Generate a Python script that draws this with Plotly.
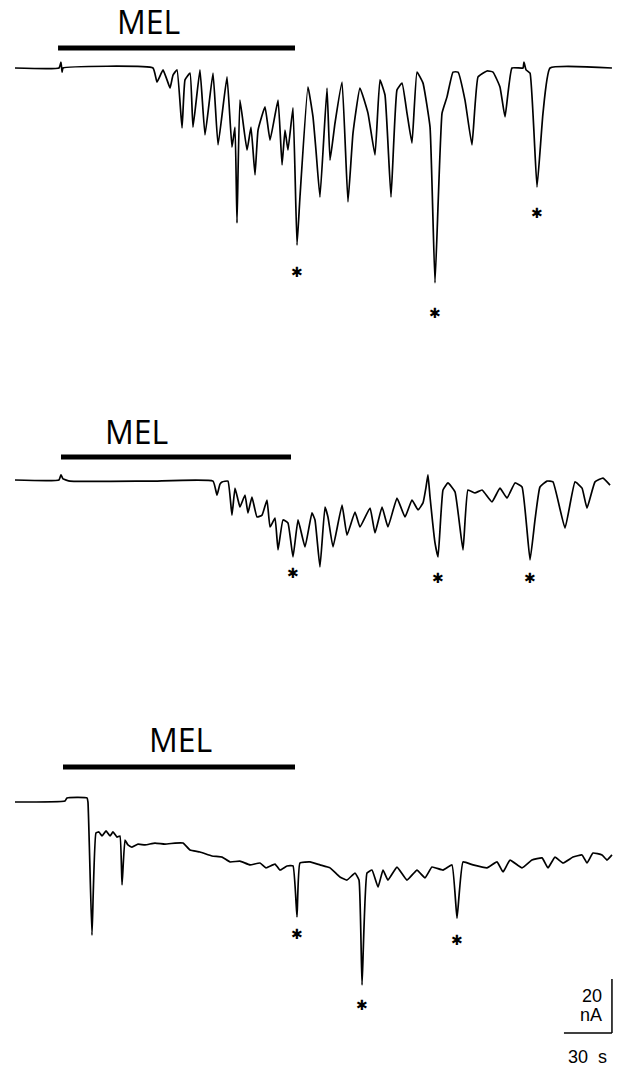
import numpy as np
import plotly.graph_objects as go

# ---------------- data: time (s) and membrane current (nA, relative to baseline) -------------
t_a = [0, 27.5, 28.75, 29.4, 30, 86.25, 88.75, 92.5, 95, 96.9, 98.75, 101.25, 104.4, 106.25,
       109.4, 111.25, 115.6, 118.75, 123.75, 126.9, 132.5, 135.6, 137.5, 138.75, 140.6, 145,
       147.5, 150, 151.9, 156.25, 159.4, 164.4, 166.9, 168.75, 170.6, 173.75, 176.25, 178.1,
       183.1, 186.25, 188.1, 190.6, 195, 196.9, 200, 204.4, 208.1, 211.25, 215.6, 220.6, 225,
       228.1, 231.25, 235, 238.75, 241.9, 245, 248.1, 251.25, 255, 259.4, 262.5, 266.9, 270,
       273.75, 276.9, 281.25, 285.6, 289.4, 295, 298.75, 303.1, 306.25, 310.6, 317.5, 318.1,
       319.4, 321.9, 326.25, 330, 334.4, 373.1]
i_a = [0, 0, 2.2, -1.5, 0, 0, -5.2, -0.7, -4.4, -7.4, -2.6, -0.7, -22.2, -4.4,
       -1.9, -21.9, -0.7, -24.8, -1.9, -28.5, -3.3, -29.3, -21.9, -57.4, -11.9, -30.4,
       -21.9, -39.6, -23.0, -14.4, -26.7, -11.9, -35.9, -23.0, -30.4, -14.8, -65.6, -47.8,
       -7.0, -18.1, -30.4, -47.8, -7.4, -34.1, -20.4, -5.2, -49.6, -24.1, -7.4, -16.7, -32.2,
       -4.4, -10.0, -47.8, -8.1, -5.6, -16.7, -27.8, -1.5, -5.6, -21.9, -79.6, -16.7, -10.7,
       -1.5, -1.5, -11.9, -28.5, -3.3, -1.1, -1.5, -7.0, -18.1, 0, 0, 2.2,
       -0.7, -1.9, -44.1, -16.7, 0, 0]

t_b = [0, 27.5, 28.75, 30, 34.4, 84.4, 123.75, 126.25, 128.1, 129.4, 133.1, 135.6, 137.5,
       139.4, 140.6, 143.75, 145.6, 148.1, 151.25, 154.4, 157.5, 159.4, 162.5, 164.4, 167.5,
       170.6, 173.75, 176.9, 181.25, 185.6, 187.5, 190.6, 193.75, 195.6, 198.75, 204.4, 207.5,
       212.5, 215.6, 221.9, 225, 229.4, 233.1, 238.75, 243.75, 248.1, 251.9, 255, 256.9,
       258.1, 259.4, 262.5, 264.4, 267.5, 270.6, 275, 280, 283.1, 287.5, 291.9, 298.1, 303.1,
       307.5, 312.5, 316.9, 321.9, 325, 328.1, 332.5, 336.25, 343.75, 350, 354.4, 357.5,
       362.5, 367.5, 371.9]
i_b = [0, 0, 1.9, 0.4, -0.4, -0.4, -0.4, -5.6, -1.5, -0.7, -0.4, -13.0, -3.0,
       -7.4, -10.0, -5.6, -12.2, -6.3, -13.7, -13.0, -7.4, -17.4, -14.1, -25.9, -14.8,
       -15.9, -28.5, -14.8, -24.8, -12.2, -14.8, -32.2, -10.0, -13.7, -24.8, -9.3, -20.4,
       -11.9, -17.4, -10.4, -19.6, -10.0, -17.4, -6.7, -13.7, -7.4, -11.1, -8.5, -2.6,
       1.9, -6.3, -23.3, -28.5, -3.7, -1.1, -4.4, -25.9, -3.7, -4.8, -3.7, -8.1, -3.0,
       -6.7, -1.1, -2.6, -29.6, -14.8, -2.6, -0.4, -0.7, -17.8, -0.7, -3.0, -10.4,
       -0.7, 0.7, -1.9]

t_c = [0, 31.25, 32.5, 45, 45.6, 48.1, 50.6, 52.5, 54.4, 56.9, 59.4, 61.25, 63.75, 65.6,
       66.9, 68.75, 70.6, 73.1, 76.9, 81.25, 87.5, 93.75, 100, 105, 109.4, 115.6, 123.1,
       129.4, 134.4, 140.6, 146.9, 153.1, 156.9, 162.5, 165.6, 170, 173.75, 176.25, 178.1,
       184.4, 190.6, 196.9, 203.1, 207.5, 212.5, 215, 216.9, 220, 223.1, 226.9, 230, 233.1,
       238.75, 245, 251.25, 256.25, 260.6, 267.5, 273.1, 276.25, 280, 286.25, 295, 301.25,
       305, 309.4, 316.9, 323.1, 329.4, 333.1, 337.5, 342.5, 348.75, 354.4, 357.5, 361.25,
       366.9, 370, 373.1]
i_c = [0, 0.4, 1.5, 1.5, 0, -49.3, -11.5, -11.1, -12.6, -10.7, -12.6, -11.1, -13.0, -12.6,
       -30.7, -14.1, -15.9, -16.7, -15.6, -15.9, -15.2, -15.6, -15.2, -15.2, -17.8, -18.5, -20.0,
       -20.4, -22.2, -21.9, -23.3, -22.6, -24.4, -23.0, -25.2, -23.7, -23.7, -42.6, -22.6,
       -22.2, -23.3, -24.4, -27.8, -28.9, -26.3, -28.9, -67.8, -26.3, -25.2, -31.5, -25.2, -28.9,
       -24.1, -28.9, -25.2, -28.1, -24.1, -25.2, -23.3, -43.0, -22.2, -23.3, -24.4, -22.2,
       -25.9, -21.5, -24.4, -21.5, -20.7, -24.4, -20.4, -22.6, -20.4, -19.6, -22.6, -18.9,
       -19.6, -21.5, -19.6]

# melatonin (MEL) application windows, s
mel_on = [26.9, 28.75, 30.0]
mel_off = [175.0, 172.5, 175.0]

# starred events (s)
stars_a = [176.25, 262.5, 326.25]
stars_b = [173.75, 264.4, 321.9]
stars_c = [176.25, 216.9, 276.25]

# calibration
cal_t = 30   # s
cal_i = 20   # nA

# ---------------- layout geometry ----------------
W, H = 629, 1067
PX_S = 1.6      # px per second
PX_NA = 2.7     # px per nA
X0 = 15         # px where t = 0
panels = [
    dict(top=0, bot=340, base=68, bar=48, tx=148.5, ty=23.5, off=[27, 30, 26]),
    dict(top=400, bot=620, base=480, bar=457, tx=136, ty=434, off=[16, 21, 18]),
    dict(top=700, bot=1067, base=802, bar=767, tx=180.5, ty=741, off=[17, 20, 22]),
]
series = [(t_a, i_a, stars_a), (t_b, i_b, stars_b), (t_c, i_c, stars_c)]

fig = go.Figure()
xr = [-X0 / PX_S, (W - X0) / PX_S]
shapes, annos = [], []
for k, (p, (t, i, st)) in enumerate(zip(panels, series)):
    n = "" if k == 0 else str(k + 1)
    xa, ya = "x" + n, "y" + n
    fig.add_trace(go.Scatter(x=t, y=i, mode="lines", xaxis=xa, yaxis=ya,
                             line=dict(color="black", width=1.7, shape="spline",
                                       smoothing=0.35),
                             hoverinfo="skip", showlegend=False))
    yr = [-(p["bot"] - p["base"]) / PX_NA, (p["base"] - p["top"]) / PX_NA]
    dom = [1 - p["bot"] / H, 1 - p["top"] / H]
    ax = dict(range=xr, visible=False, fixedrange=True)
    ay = dict(range=yr, domain=dom, visible=False, fixedrange=True)
    if k > 0:
        ax["anchor"] = ya
        ay["anchor"] = xa
    fig.update_layout(**{"xaxis" + n: ax, "yaxis" + n: ay})
    lvl = (p["base"] - p["bar"]) / PX_NA
    shapes.append(dict(type="line", xref=xa, yref=ya, x0=mel_on[k], x1=mel_off[k],
                       y0=lvl, y1=lvl, line=dict(color="black", width=5)))
    annos.append(dict(x=(p["tx"] - X0) / PX_S, y=(p["base"] - p["ty"]) / PX_NA,
                      xref=xa, yref=ya, text="MEL", showarrow=False,
                      xanchor="center", yanchor="middle", yshift=2,
                      font=dict(family="Open Sans", size=32, color="black")))
    sy = np.interp(st, t, i)
    for s, v, o in zip(st, sy, p["off"]):
        annos.append(dict(x=s, y=v, xref=xa, yref=ya, text="✱", showarrow=False,
                          xanchor="center", yanchor="middle", yshift=-o,
                          font=dict(family="DejaVu Sans", size=14, color="black")))

# calibration bars in bottom panel
ce = t_c[-1]
cb = -85.6
shapes.append(dict(type="line", xref="x3", yref="y3", x0=ce - cal_t, x1=ce, y0=cb, y1=cb,
                   line=dict(color="black", width=1.5)))
shapes.append(dict(type="line", xref="x3", yref="y3", x0=ce, x1=ce, y0=cb, y1=cb + cal_i,
                   line=dict(color="black", width=1.5)))
lab_font = dict(family="Liberation Sans", size=18, color="black")
annos.append(dict(x=ce, y=cb + cal_i / 2, xref="x3", yref="y3", text=f"{cal_i}",
                  showarrow=False, xanchor="right", yanchor="middle",
                  xshift=-8, yshift=10, font=lab_font))
annos.append(dict(x=ce, y=cb + cal_i / 2, xref="x3", yref="y3", text="nA",
                  showarrow=False, xanchor="right", yanchor="middle",
                  xshift=-8, yshift=-9, font=lab_font))
annos.append(dict(x=ce - cal_t / 2, y=cb, xref="x3", yref="y3",
                  text=f"{cal_t}&nbsp;&nbsp;s", showarrow=False, xanchor="center",
                  yanchor="top", yshift=-12, font=lab_font))

fig.update_layout(width=W, height=H, margin=dict(l=0, r=0, t=0, b=0),
                  paper_bgcolor="white", plot_bgcolor="white",
                  shapes=shapes, annotations=annos, showlegend=False)
fig.write_html("out.html", config={"displayModeBar": False},
               post_script="document.body.style.margin='0';")
